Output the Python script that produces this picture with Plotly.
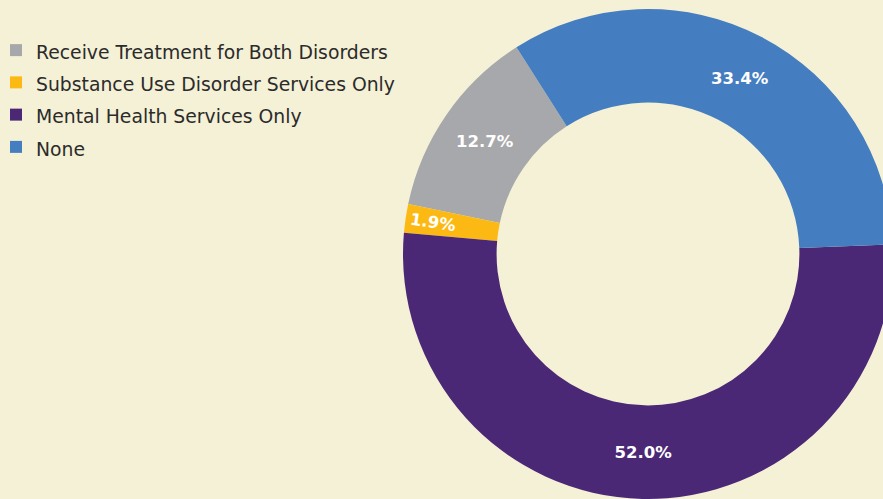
import plotly.graph_objects as go

labels = ["Receive Treatment for Both Disorders", "Substance Use Disorder Services Only",
          "Mental Health Services Only", "None"]
values = [12.7, 1.9, 52.0, 33.4]
colors = ["#A7A8AB", "#FDB913", "#4B2875", "#447EC0"]

W, H = 895, 499
cx, cy, r = 648, 254, 245

legend_labels = [f"<span style='font-size:18.8px'>{l}</span>" for l in labels]

fig = go.Figure(go.Pie(
    labels=legend_labels, values=values, sort=False, direction="counterclockwise",
    rotation=-78.2, hole=0.618,
    marker=dict(colors=colors, line=dict(width=0)),
    texttemplate="%{value:.1f}%", textposition="inside", insidetextorientation="auto",
    textfont=dict(family="DejaVu Sans", size=16.5, color="white", weight="bold"),
    domain=dict(x=[(cx - r) / W, (cx + r) / W], y=[max(0, 1 - (cy + r) / H), 1 - (cy - r) / H]),
    hoverinfo="label+percent",
))
fig.update_layout(
    width=W, height=H, margin=dict(l=0, r=0, t=0, b=0, autoexpand=False),
    paper_bgcolor="#F5F1D6", plot_bgcolor="#F5F1D6",
    font=dict(family="DejaVu Sans", color="#2B2B2B"),
    uniformtext=dict(minsize=16.5, mode="show"),
    legend=dict(x=-4 / W, y=1 - 29 / H, xanchor="left", yanchor="top",
                font=dict(size=22.5, color="#2B2B2B"), bgcolor="rgba(0,0,0,0)"),
)
fig.write_html("out.html", config={"displayModeBar": False},
               post_script="document.documentElement.style.overflow='hidden';document.body.style.overflow='hidden';document.body.style.margin='0';")
